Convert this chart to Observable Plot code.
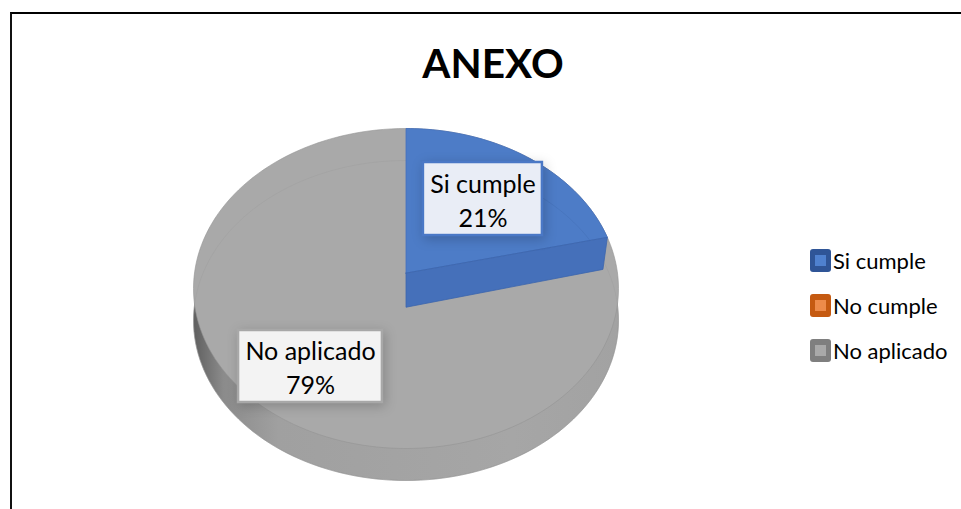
<!DOCTYPE html>
<html><head><meta charset="utf-8">
<script src="https://cdn.jsdelivr.net/npm/d3@7"></script>
<script src="https://cdn.jsdelivr.net/npm/@observablehq/plot@0.6"></script>
<style>
html,body{margin:0;padding:0;background:#fff;width:961px;height:509px;overflow:hidden;font-family:Lato,"Open Sans",sans-serif;color:#000}
#frame{position:absolute;left:10px;top:12px;right:0;bottom:0;border-left:2.5px solid #111;border-top:2px solid #000}
#title{position:absolute;left:0;width:986px;top:38px;text-align:center;font-size:40.5px;font-weight:700;line-height:50px}
#chart{position:absolute;left:0;top:0}
.row{position:absolute;left:810px;height:23px;display:flex;align-items:center;font-size:22px;white-space:nowrap}
.sw{width:21px;height:23px;border-radius:3px;margin-right:2px;display:flex;align-items:center;justify-content:center}
.sw i{display:block;width:11px;height:11px}
</style></head><body>
<div id="frame"></div>
<div id="chart"></div>
<div id="title"></div>
<div id="legend"></div>
<script>
const titleText = "ANEXO";
const categories = ["Si cumple", "No cumple", "No aplicado"];
const shares = [21, 0, 79];
const outerColors = ["#2f5597", "#c55a11", "#7f7f7f"];
const innerColors = ["#4f81cf", "#ed8b4a", "#a9a9a9"];
const legendTops = [249, 294, 339];

// Pie layout in unit coordinates of the tilted disc
const depth = 0.2, apexY = 0.096, rimScale = 0.944, wallInset = 0.978;
const circle = d3.range(0, 361, 2).map(d => d * Math.PI / 180);
const onDisc = (t, dy = 0) => ({x: Math.sin(t), y: Math.cos(t) + dy});
const sliceEnd = shares[0] / 100 * 2 * Math.PI * rimScale;
const sliceArc = d3.range(0, 61).map(i => onDisc(sliceEnd * i / 60));
const rim = sliceArc[sliceArc.length - 1];
const sliceTop = [{x: 0, y: apexY}, ...sliceArc, {x: 0, y: apexY}];
const sliceWall = [{x: 0, y: apexY}, rim,
  {x: rim.x * wallInset, y: rim.y - depth}, {x: 0, y: apexY - depth - 0.013}];
const labels = [
  {i: 0, x1: 0.082, x2: 0.642, y1: 0.7875, y2: 0.331, fill: "#e9edf6", stroke: "#4a78c6"},
  {i: 2, x1: -0.788, x2: -0.111, y1: -0.2625, y2: -0.7125, fill: "#f3f3f3", stroke: "#a8a8a8"}
].map(d => ({...d, cx: (d.x1 + d.x2) / 2, cy: (d.y1 + d.y2) / 2,
  text: categories[d.i] + "\n" + shares[d.i] + "%"}));

const defs = () => {
  const s = d3.create("svg:defs");
  const g = s.append("linearGradient").attr("id", "wall");
  [[0, "#5f5f5f"], [0.07, "#8b8b8b"], [0.2, "#a0a0a0"], [0.75, "#a6a6a6"], [1, "#a2a2a2"]]
    .forEach(([o, c]) => g.append("stop").attr("offset", o).attr("stop-color", c));
  return s.node();
};
const loop = (dy) => circle.map(t => onDisc(t, dy));

const chart = Plot.plot({
  width: 961, height: 509, margin: 0,
  style: {background: "transparent", overflow: "visible"},
  x: {domain: [-1, 1], range: [193, 618], axis: null},
  y: {domain: [-1, 1], range: [448, 128], axis: null},
  marks: [
    defs,
    Plot.line(loop(-depth), {x: "x", y: "y", fill: "url(#wall)", stroke: "#8a8a8a", strokeWidth: 0.5}),
    Plot.line(loop(0), {x: "x", y: "y", fill: innerColors[2], stroke: "#939393", strokeWidth: 0.6}),
    Plot.line(loop(-depth), {x: "x", y: "y", stroke: "#999", strokeWidth: 0.7, strokeOpacity: 0.45}),
    Plot.line(sliceTop, {x: "x", y: "y", fill: "#4d7cc7", stroke: "#4470bd", strokeWidth: 0.8}),
    Plot.line(loop(-depth).filter(d => d.x > 0.05 && d.y > 0.2 && d.x < 0.93), {x: "x", y: "y", stroke: "#3f69b0", strokeWidth: 0.7, strokeOpacity: 0.5}),
    Plot.line([...sliceWall, sliceWall[0]], {x: "x", y: "y", fill: "#4570ba", stroke: "#3c66ad", strokeWidth: 0.8}),
    Plot.rect(labels, {x1: "x1", x2: "x2", y1: "y1", y2: "y2", fill: "fill", stroke: "stroke", strokeWidth: 2.5,
      imageFilter: "drop-shadow(2px 3px 6px rgba(0,0,0,0.2))"}),
    Plot.text(labels, {x: "cx", y: "cy", text: "text", fontSize: 25, lineHeight: 1.36, fill: "#000",
      fontFamily: "Lato, sans-serif"})
  ]
});
document.getElementById("chart").append(chart);
document.getElementById("title").textContent = titleText;

const legend = document.getElementById("legend");
categories.forEach((c, i) => {
  const r = document.createElement("div");
  r.className = "row";
  r.style.top = legendTops[i] + "px";
  r.innerHTML = `<span class="sw" style="background:${outerColors[i]}"><i style="background:${innerColors[i]}"></i></span><span>${c}</span>`;
  legend.append(r);
});
</script>
</body></html>
